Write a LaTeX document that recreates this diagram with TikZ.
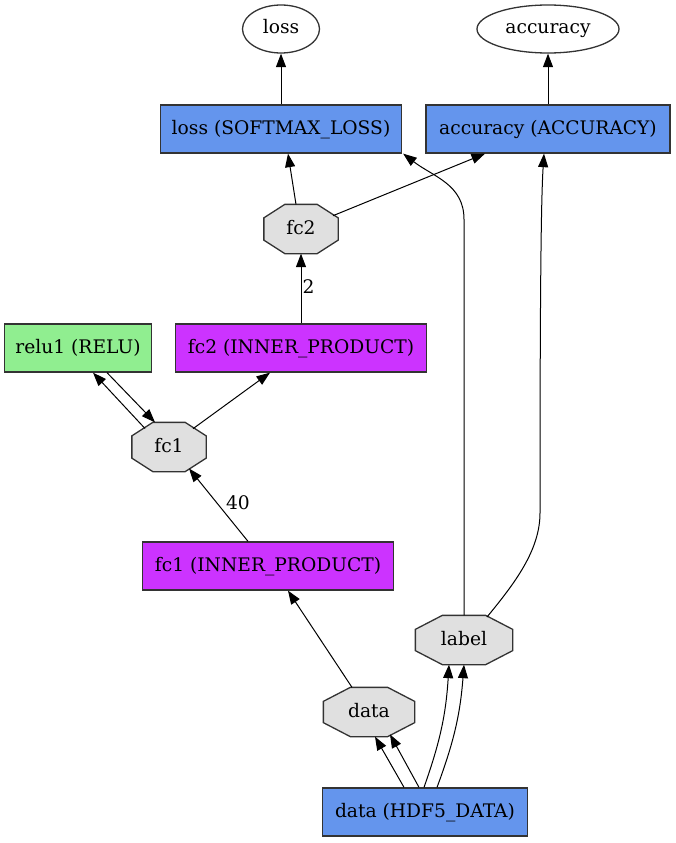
\documentclass[tikz,border=0pt]{standalone}
\usepackage{fontspec}
\setmainfont{DejaVu Serif}
\usetikzlibrary{shapes.geometric,arrows.meta,backgrounds}
\definecolor{layerblue}{HTML}{6495ED}
\definecolor{relugreen}{HTML}{90EE90}
\definecolor{ippurple}{HTML}{CC33FF}
\definecolor{blobgray}{HTML}{E0E0E0}
\begin{document}
\begin{tikzpicture}[x=1pt,y=-1pt,line width=1.3pt,
  every node/.style={font=\fontsize{18.67}{22}\selectfont,text height=14pt,text depth=4pt},
  layer/.style={draw=black!80,rectangle,minimum height=48,inner sep=0pt},
  iplayer/.style={layer,fill=ippurple},
  blob/.style={rectangle,minimum height=48,inner sep=0pt},
  blobline/.style={draw=black!80,fill=blobgray,line width=1.3pt},
  outblob/.style={draw=black!80,ellipse,minimum height=48,inner sep=0pt},
  edge/.style={-{Triangle[length=13.5pt,width=10pt]},line width=1pt}]
\useasboundingbox (0,0) rectangle (675,843);
% output blobs
\node[outblob,minimum width=77] (loss) at (281,29) {loss};
\node[outblob,minimum width=142] (accuracy) at (548,29) {accuracy};
% layers and blobs, top to bottom
\node[layer,fill=layerblue,minimum width=241] (losslayer) at (281,129) {loss (SOFTMAX\_LOSS)};
\node[layer,fill=layerblue,minimum width=244] (acclayer) at (548,129) {accuracy (ACCURACY)};
\node[blob,minimum width=73] (fc2b) at (301,229) {fc2};
\node[iplayer,minimum width=251] (fc2ip) at (301,348) {fc2 (INNER\_PRODUCT)};
\node[layer,fill=relugreen,minimum width=147] (relu) at (78,348) {relu1 (RELU)};
\node[blob,minimum width=73] (fc1b) at (169,447) {fc1};
\node[iplayer,minimum width=251] (fc1ip) at (268,566) {fc1 (INNER\_PRODUCT)};
\node[blob,minimum width=96] (labelb) at (464,640) {label};
\node[blob,minimum width=90] (datab) at (369,712) {data};
\node[layer,fill=layerblue,minimum width=205] (hdf) at (425,812) {data (HDF5\_DATA)};
% octagons behind the blob names
\begin{scope}[on background layer]
\foreach \n/\cx/\cy in {fc2b/21/13.5,fc1b/21/13.5,labelb/27/14,datab/27/14}
  \path[blobline] ([xshift=\cx]\n.north west) -- ([xshift=-\cx]\n.north east)
    -- ([yshift=-\cy]\n.north east) -- ([yshift=\cy]\n.south east)
    -- ([xshift=-\cx]\n.south east) -- ([xshift=\cx]\n.south west)
    -- ([yshift=\cy]\n.south west) -- ([yshift=-\cy]\n.north west) -- cycle;
\end{scope}
% connections
\draw[edge] (losslayer) -- (loss);
\draw[edge] (acclayer) -- (accuracy);
\draw[edge] ([xshift=-5]fc2b.north) -- ([xshift=7]losslayer.south);
\draw[edge] ([xshift=32,yshift=13.3]fc2b.center) -- ([xshift=-63]acclayer.south);
\draw[edge] (labelb.north) -- ++(0,-396) .. controls +(0,-35) and +(30,23) .. ([xshift=1]losslayer.south east);
\draw[edge] ([xshift=23,yshift=23]labelb.center) .. controls +(28,-34) and +(0,37) .. (540,513) .. controls (540,300) and (541,200) .. ([xshift=-4]acclayer.south);
\draw[edge] (fc2ip) -- node[right,inner sep=1pt] {2} (fc2b);
\draw[edge] ([xshift=-24,yshift=18.5]fc1b.center) -- ([xshift=15]relu.south);
\draw[edge] ([xshift=29]relu.south) -- ([xshift=-14]fc1b.north);
\draw[edge] ([xshift=24,yshift=18.3]fc1b.center) -- ([xshift=-31]fc2ip.south);
\draw[edge] ([xshift=-20]fc1ip.north) -- node[right=6pt,inner sep=1pt] {40} ([xshift=20,yshift=-21.5]fc1b.center);
\draw[edge] ([xshift=-17]datab.north) -- ([xshift=20]fc1ip.south);
\draw[edge] ([xshift=-21]hdf.north) -- ([xshift=6]datab.south);
\draw[edge] ([xshift=-6]hdf.north) -- ([xshift=21,yshift=-22.4]datab.center);
\draw[edge] ([xshift=-1]hdf.north) to[bend right=8] ([xshift=-15]labelb.south);
\draw[edge] ([xshift=12]hdf.north) to[bend right=8] (labelb.south);
\end{tikzpicture}
\end{document}
